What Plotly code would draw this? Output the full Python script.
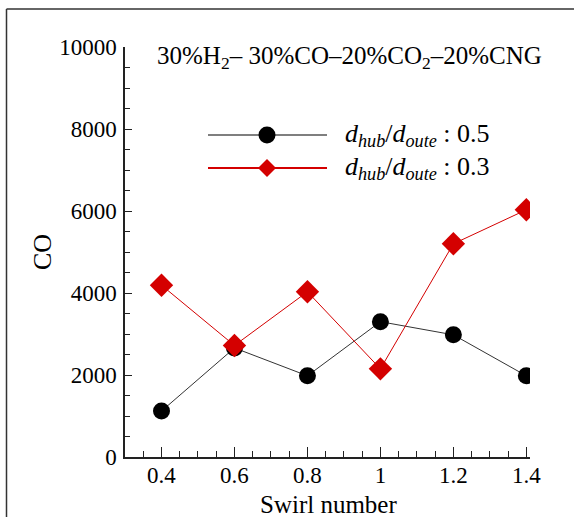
import plotly.graph_objects as go

swirl = [0.4, 0.6, 0.8, 1.0, 1.2, 1.4]
co_05 = [1120, 2660, 1980, 3300, 2980, 1980]
co_03 = [4190, 2720, 4030, 2150, 5200, 6030]
x_ticks = [0.4, 0.6, 0.8, 1.0, 1.2, 1.4]
x_ticklabels = ["0.4", "0.6", "0.8", "1", "1.2", "1.4"]
y_ticks = [0, 2000, 4000, 6000, 8000, 10000]
y_ticklabels = ["0", "2000", "4000", "6000", "8000", "10000"]
legend_labels = ["<i>d</i><sub><i>hub</i></sub>/<i>d</i><sub><i>oute</i></sub> : 0.5",
                 "<i>d</i><sub><i>hub</i></sub>/<i>d</i><sub><i>oute</i></sub> : 0.3"]
title_text = "30%H<sub>2</sub>– 30%CO–20%CO<sub>2</sub>–20%CNG"

W, H = 574, 517
L, R, T, B = 125, 44, 47, 60
PW, PH = W - L - R, H - T - B

def px(x):
    return (x - L) / PW

def py(y):
    return (H - B - y) / PH

FONT = "Liberation Serif"
RED = "#d40000"

fig = go.Figure()
fig.add_trace(go.Scatter(x=swirl, y=co_05, mode="lines+markers",
                         line=dict(color="#333333", width=1),
                         marker=dict(symbol="circle", size=17, color="black"),
                         showlegend=False))
fig.add_trace(go.Scatter(x=swirl, y=co_03, mode="lines+markers",
                         line=dict(color=RED, width=1),
                         marker=dict(symbol="diamond", size=18, color=RED),
                         showlegend=False))

shapes = []
# outer frame
shapes.append(dict(type="line", xref="paper", yref="paper", x0=px(6.5), x1=px(6.5),
                   y0=py(600), y1=py(9), line=dict(color="#333333", width=1.5)))
shapes.append(dict(type="line", xref="paper", yref="paper", x0=px(6.5), x1=px(700),
                   y0=py(9), y1=py(9), line=dict(color="#333333", width=1.5)))
# manual legend
rows = [135, 168]
lx0, lx1, mx = 208, 327, 267
shapes.append(dict(type="line", xref="paper", yref="paper", x0=px(lx0), x1=px(lx1),
                   y0=py(rows[0]), y1=py(rows[0]), line=dict(color="#555555", width=1.5)))
shapes.append(dict(type="circle", xref="paper", yref="paper",
                   x0=px(mx - 8.5), x1=px(mx + 8.5), y0=py(rows[0] + 8.5), y1=py(rows[0] - 8.5),
                   fillcolor="black", line=dict(color="black", width=0)))
shapes.append(dict(type="line", xref="paper", yref="paper", x0=px(lx0), x1=px(lx1),
                   y0=py(rows[1]), y1=py(rows[1]), line=dict(color=RED, width=1.8)))
d = 9
path = (f"M {px(mx - d)} {py(rows[1])} L {px(mx)} {py(rows[1] - d)} "
        f"L {px(mx + d)} {py(rows[1])} L {px(mx)} {py(rows[1] + d)} Z")
shapes.append(dict(type="path", xref="paper", yref="paper", path=path,
                   fillcolor=RED, line=dict(color=RED, width=0)))

annotations = []
for r, lab in zip(rows, legend_labels):
    annotations.append(dict(x=px(343), y=py(r), xref="paper", yref="paper", text=lab,
                            showarrow=False, xanchor="left", yanchor="middle",
                            font=dict(family=FONT, size=26, color="black")))
annotations.append(dict(x=px(155), y=py(57), xref="paper", yref="paper", text=title_text,
                        showarrow=False, xanchor="left", yanchor="middle",
                        font=dict(family=FONT, size=25, color="black")))
annotations.append(dict(x=px(42), y=0.5, xref="paper", yref="paper", text="CO",
                        showarrow=False, textangle=-90, xanchor="center", yanchor="middle",
                        font=dict(family=FONT, size=26, color="black")))
annotations.append(dict(x=px(328), y=py(504), xref="paper", yref="paper", text="Swirl number",
                        showarrow=False, xanchor="center", yanchor="middle",
                        font=dict(family=FONT, size=25, color="black")))

fig.update_layout(
    width=W, height=H,
    margin=dict(l=L, r=R, t=T, b=B),
    paper_bgcolor="white", plot_bgcolor="white",
    shapes=shapes, annotations=annotations,
    font=dict(family=FONT, size=21, color="black"),
    xaxis=dict(range=[0.3, 1.41], tickvals=x_ticks, ticktext=x_ticklabels,
               showgrid=False, zeroline=False, showline=True, linecolor="#222222", linewidth=1.5,
               ticks="inside", ticklen=10, tickwidth=1.2, tickcolor="#222222",
               minor=dict(dtick=0.05, tick0=0.3, ticks="inside", ticklen=6, tickcolor="#222222", tickwidth=1),
               tickfont=dict(family=FONT, size=23), ticklabelstandoff=-3),
    yaxis=dict(range=[0, 10000], tickvals=y_ticks, ticktext=y_ticklabels,
               showgrid=False, zeroline=False, showline=True, linecolor="#222222", linewidth=1.5,
               ticks="inside", ticklen=7, tickwidth=1.2, tickcolor="#222222",
               minor=dict(dtick=500, ticks="inside", ticklen=5, tickcolor="#222222", tickwidth=1),
               tickfont=dict(family=FONT, size=23), ticklabelstandoff=2),
)

fig.write_html("out.html")
